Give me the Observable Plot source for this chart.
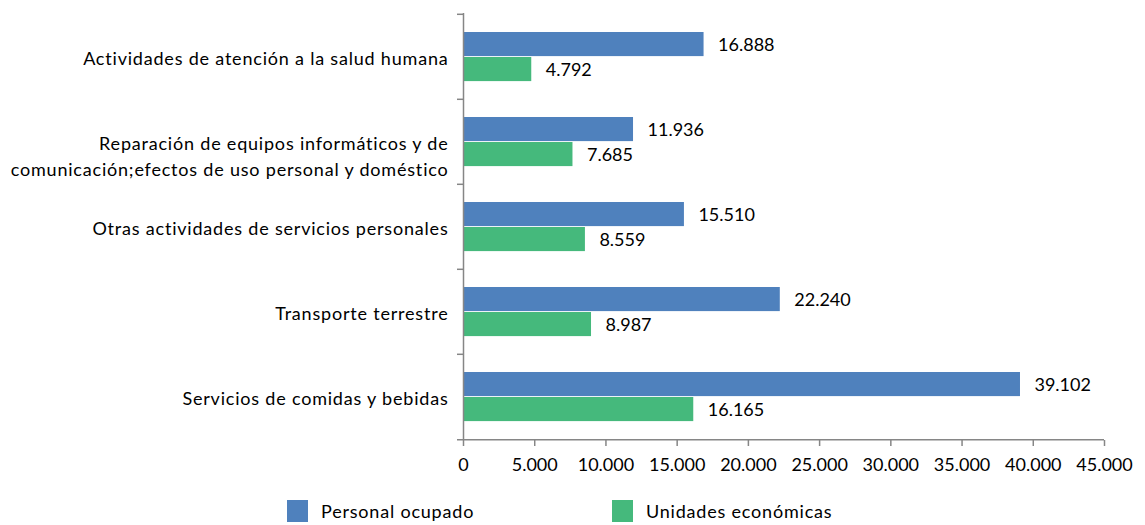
<!DOCTYPE html>
<html><head><meta charset="utf-8">
<script src="https://cdn.jsdelivr.net/npm/d3@7"></script>
<script src="https://cdn.jsdelivr.net/npm/@observablehq/plot@0.6"></script>
<style>
body{margin:0;background:#fff;font-family:Lato,sans-serif;}
#legend{position:relative;height:35px;font-family:Lato,sans-serif;font-size:18px;color:#000;letter-spacing:0.8px;}
.item{position:absolute;top:10px;display:flex;align-items:center;}
.sw{width:21px;height:22px;margin-right:13px;}
</style>
</head><body>
<div id="chart"></div>
<div id="legend"></div>
<script>
const categories = [
  "Actividades de atención a la salud humana",
  "Reparación de equipos informáticos y de\ncomunicación;efectos de uso personal y doméstico",
  "Otras actividades de servicios personales",
  "Transporte terrestre",
  "Servicios de comidas y bebidas"
];
const series = ["Personal ocupado", "Unidades económicas"];
const personalOcupado = [16888, 11936, 15510, 22240, 39102];
const unidadesEconomicas = [4792, 7685, 8559, 8987, 16165];
const xTicks = [0, 5000, 10000, 15000, 20000, 25000, 30000, 35000, 40000, 45000];
const colors = ["#4F81BD", "#45B97C"];

const loc = d3.formatLocale({decimal: ",", thousands: ".", grouping: [3], currency: ["", ""]});
const fmt = loc.format(",d");

const dataP = categories.map((c, i) => ({cat: c, value: personalOcupado[i]}));
const dataU = categories.map((c, i) => ({cat: c, value: unidadesEconomicas[i]}));
const singleLine = categories.filter(c => !c.includes("\n"));
const multiLine = categories.filter(c => c.includes("\n"));

const W = 1145, H = 490, mL = 463, mR = 41, mT = 13, mB = 50;
const bw = (H - mT - mB) / categories.length;
const axisColor = "#868686";

const chart = Plot.plot({
  width: W, height: H,
  marginLeft: mL, marginRight: mR, marginTop: mT, marginBottom: mB,
  style: {fontFamily: "Lato, sans-serif", fontSize: "18px", color: "#000", background: "#fff"},
  x: {domain: [0, 45000], axis: null},
  y: {domain: categories, padding: 0, axis: null},
  marks: [
    Plot.barX(dataP, {x: "value", y: "cat", fill: colors[0], insetTop: 18, insetBottom: bw - 42.5}),
    Plot.barX(dataU, {x: "value", y: "cat", fill: colors[1], insetTop: 43, insetBottom: bw - 67.5}),
    Plot.text(dataP, {x: "value", y: "cat", text: d => fmt(d.value), dx: 14, dy: -11.5, textAnchor: "start", fill: "#000", fontSize: 18}),
    Plot.text(dataU, {x: "value", y: "cat", text: d => fmt(d.value), dx: 14, dy: 13.5, textAnchor: "start", fill: "#000", fontSize: 18}),
    Plot.ruleX([0], {stroke: axisColor, strokeWidth: 1.5}),
    Plot.ruleY(categories, {y: d => d, dy: -bw / 2, stroke: axisColor, strokeWidth: 1.5, insetLeft: -6, insetRight: W - mL - mR}),
    Plot.ruleY([categories[categories.length - 1]], {y: d => d, dy: bw / 2, stroke: axisColor, strokeWidth: 1.5, insetLeft: -6}),
    Plot.axisX({ticks: xTicks, tickFormat: fmt, tickSize: 6, tickPadding: 12, stroke: axisColor, strokeWidth: 1.5, fill: "#000", fontSize: 18, label: null, anchor: "bottom"}),
    Plot.text(singleLine, {y: d => d, frameAnchor: "left", dx: -15, dy: 2, textAnchor: "end", fill: "#000", fontSize: 18, text: d => d}),
    Plot.text(multiLine, {y: d => d, frameAnchor: "left", dx: -15, dy: 13, textAnchor: "end", lineHeight: 1.4, fill: "#000", fontSize: 18, text: d => d})
  ]
});
document.getElementById("chart").appendChild(chart);

// wider tracking for category labels (to approximate the original typeface)
const pieces = new Set(categories.flatMap(c => c.split("\n")));
d3.select(chart).selectAll("text").each(function() {
  const el = this;
  const tspans = el.querySelectorAll("tspan");
  const t = tspans.length ? Array.from(tspans).map(s => s.textContent) : [el.textContent];
  if (t.every(s => pieces.has(s))) el.setAttribute("letter-spacing", "0.8");
});

const legend = document.getElementById("legend");
const lefts = [287, 612];
series.forEach((s, i) => {
  const it = document.createElement("div");
  it.className = "item";
  it.style.left = lefts[i] + "px";
  it.innerHTML = `<span class="sw" style="background:${colors[i]}"></span><span>${s}</span>`;
  legend.appendChild(it);
});
</script>
</body></html>
